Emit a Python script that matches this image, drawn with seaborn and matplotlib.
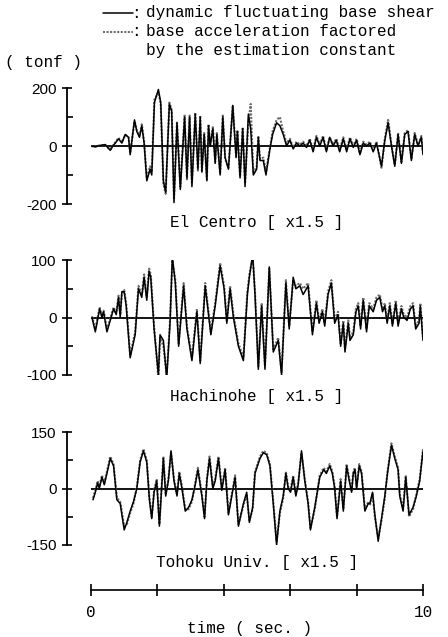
import numpy as np
import pandas as pd
import matplotlib
matplotlib.use("Agg")
import matplotlib.pyplot as plt
import seaborn as sns
from matplotlib.lines import Line2D

# ---------------- data ----------------
elc_t = [0.00, 0.13, 0.28, 0.43, 0.50, 0.58, 0.66, 0.73, 0.83, 0.93,
         1.03, 1.13, 1.18, 1.31, 1.38, 1.46, 1.53, 1.60, 1.68, 1.78,
         1.83, 1.91, 2.03, 2.10, 2.18, 2.25, 2.36, 2.43, 2.50, 2.59,
         2.69, 2.82, 2.89, 2.97, 3.04, 3.14, 3.22, 3.29, 3.34, 3.41,
         3.49, 3.54, 3.59, 3.67, 3.74, 3.79, 3.89, 3.97, 4.04, 4.14,
         4.27, 4.37, 4.41, 4.49, 4.57, 4.64, 4.74, 4.81, 4.89, 4.99,
         5.04, 5.09, 5.19, 5.27, 5.39, 5.47, 5.59, 5.69, 5.79, 5.89,
         5.99, 6.09, 6.19, 6.29, 6.39, 6.49, 6.59, 6.69, 6.79, 6.89,
         6.99, 7.09, 7.19, 7.29, 7.39, 7.49, 7.60, 7.70, 7.80, 7.90,
         8.00, 8.10, 8.20, 8.30, 8.40, 8.50, 8.60, 8.75, 8.85, 8.95,
         9.05, 9.15, 9.25, 9.35, 9.45, 9.55, 9.65, 9.75, 9.85, 9.95,
         10.00]
elc_shear = [0, -3, 2, 5, -5, -15, 0, 10, 25, 10,
             40, 30, -30, 90, 50, 30, 70, 10, -120, -80,
             -100, 150, 195, 150, -120, -160, 145, 120, -195, 80,
             -150, 100, -110, 100, -140, 110, -80, 100, -90, 40,
             -120, 70, 0, 60, -60, 40, -100, 100, -40, -80,
             140, -40, 50, -110, 60, -140, 110, 60, -100, -80,
             30, -50, -50, -100, -10, 40, 80, 70, 40, 0,
             20, -10, 10, 0, 10, -5, 20, -20, 30, 0,
             30, -20, 30, 0, 20, -20, 25, -20, 25, -5,
             20, -30, 10, 0, 10, -20, 10, -70, 20, 80,
             0, -70, 40, -60, 40, 50, -50, 40, 0, 30,
             -30]
elc_acc = [0, -2, 3, 3, -4, -12, 2, 12, 28, 12,
           38, 32, -25, 85, 55, 35, 75, 15, -110, -70,
           -90, 160, 185, 145, -130, -165, 150, 125, -185, 85,
           -140, 105, -115, 105, -130, 115, -85, 105, -85, 45,
           -115, 75, 5, 65, -55, 45, -95, 105, -45, -75,
           140, -35, 55, -105, 65, -130, 80, 145, -95, -70,
           35, -45, -40, -90, -5, 50, 90, 100, 50, 10,
           25, -5, 15, 5, 15, 0, 25, -15, 35, 5,
           35, -15, 30, 5, 25, -15, 30, -15, 30, 0,
           25, -25, 15, 5, 15, -15, 15, -75, 25, 90,
           5, -65, 45, -55, 45, 55, -45, 45, 5, 35,
           -25]

hac_t = [0.03, 0.13, 0.26, 0.33, 0.38, 0.48, 0.58, 0.68, 0.76, 0.83,
         0.88, 0.93, 1.00, 1.06, 1.18, 1.33, 1.43, 1.53, 1.60, 1.68,
         1.75, 1.80, 1.90, 2.03, 2.08, 2.18, 2.28, 2.38, 2.45, 2.54,
         2.64, 2.79, 2.89, 3.04, 3.19, 3.29, 3.44, 3.49, 3.61, 3.74,
         3.89, 4.01, 4.09, 4.19, 4.29, 4.44, 4.59, 4.71, 4.77, 4.87,
         4.94, 5.04, 5.14, 5.24, 5.37, 5.49, 5.64, 5.74, 5.87, 5.97,
         6.09, 6.17, 6.29, 6.39, 6.54, 6.67, 6.79, 6.87, 6.97, 7.04,
         7.14, 7.24, 7.34, 7.44, 7.52, 7.60, 7.65, 7.75, 7.80, 7.90,
         7.98, 8.05, 8.12, 8.20, 8.30, 8.38, 8.50, 8.60, 8.70, 8.78,
         8.85, 8.92, 9.00, 9.08, 9.18, 9.25, 9.35, 9.42, 9.52, 9.62,
         9.70, 9.78, 9.88, 9.92, 10.00]
hac_shear = [0, -25, 15, 0, 10, -25, -5, 15, 5, 35,
             0, 45, 45, 20, -70, -30, 50, 35, 70, 30,
             80, 70, -20, -100, -30, -40, -105, -10, 105, 60,
             -50, 55, -20, -75, 10, -80, 55, 30, -30, 20,
             90, 50, -10, 50, 0, -50, -75, 40, 70, 110,
             40, -90, 20, -90, 88, -60, -40, -100, 60, -20,
             70, 50, 55, 40, 55, -30, 25, -10, 10, -15,
             40, 60, -10, 5, -50, -10, -60, -10, -40, -30,
             10, 20, -20, 30, -25, 20, 10, 30, 35, 10,
             20, -10, 20, -15, 25, -15, 15, 0, -5, 15,
             20, -20, -10, 20, -40]
hac_acc = [2, -20, 18, 3, 12, -20, -2, 18, 8, 38,
           5, 40, 48, 25, -65, -25, 55, 40, 75, 35,
           85, 75, -15, -105, -35, -50, -100, -5, 100, 65,
           -45, 60, -15, -70, 15, -75, 60, 35, -25, 25,
           95, 55, -5, 55, 5, -45, -70, 45, 75, 105,
           45, -85, 25, -85, 85, -55, -35, -95, 65, -15,
           65, 55, 60, 50, 60, -25, 30, -5, 15, -10,
           45, 65, -5, 10, -45, -5, -55, -5, -35, -25,
           15, 25, -15, 35, -20, 25, 15, 35, 40, 15,
           25, -5, 25, -10, 30, -10, 20, 5, 0, 20,
           25, -15, -5, 25, -35]

toh_t = [0.06, 0.13, 0.20, 0.25, 0.33, 0.40, 0.48, 0.58, 0.68, 0.78,
         0.88, 1.00, 1.08, 1.18, 1.28, 1.38, 1.48, 1.58, 1.68, 1.76,
         1.83, 1.90, 1.98, 2.06, 2.18, 2.25, 2.33, 2.41, 2.50, 2.59,
         2.66, 2.74, 2.84, 2.94, 3.04, 3.14, 3.22, 3.34, 3.42, 3.49,
         3.57, 3.67, 3.74, 3.84, 3.94, 4.04, 4.14, 4.24, 4.34, 4.44,
         4.59, 4.69, 4.77, 4.87, 4.94, 5.09, 5.19, 5.29, 5.39, 5.49,
         5.59, 5.69, 5.79, 5.87, 5.94, 6.01, 6.09, 6.17, 6.24, 6.34,
         6.44, 6.54, 6.61, 6.74, 6.89, 7.01, 7.09, 7.19, 7.27, 7.34,
         7.41, 7.52, 7.60, 7.70, 7.78, 7.85, 7.90, 7.95, 8.00, 8.08,
         8.15, 8.25, 8.35, 8.40, 8.48, 8.55, 8.65, 8.75, 8.85, 8.93,
         9.05, 9.15, 9.25, 9.30, 9.40, 9.48, 9.58, 9.70, 9.80, 9.90,
         10.00]
toh_shear = [-30, -10, 15, 0, 30, 10, 40, 80, 60, -30,
             -40, -110, -90, -60, -35, 0, 70, 100, 70, -30,
             -80, -10, 20, -100, 80, -20, 20, 100, 20, -20,
             40, 0, -60, -50, -30, 10, 50, -20, -80, 20,
             80, 0, 20, 80, -5, 50, -70, -20, 30, -100,
             -40, -10, -90, -50, 40, 80, 95, 90, 60, -40,
             -150, -60, -20, 40, 0, -10, 30, -20, 10, 100,
             20, -40, -110, -50, 30, 50, 40, 60, 40, 0,
             -80, 20, -60, 60, 20, -10, 40, 50, 0, 60,
             40, -60, -40, -40, -10, -70, -140, -80, -20, 40,
             115, 80, 50, -20, -60, 30, -70, -50, -20, 20,
             100]
toh_acc = [-25, -5, 20, 5, 35, 15, 45, 85, 65, -25,
           -35, -100, -95, -65, -40, 5, 75, 105, 75, -25,
           -75, -5, 25, -95, 85, -15, 25, 95, 25, -15,
           45, 5, -55, -55, -35, 15, 55, -15, -75, 25,
           85, 5, 25, 85, 0, 55, -65, -15, 35, -95,
           -45, -15, -85, -55, 45, 85, 100, 95, 65, -35,
           -140, -65, -25, 45, 5, -5, 35, -15, 15, 95,
           25, -35, -105, -55, 35, 55, 45, 65, 45, 5,
           -75, 25, -55, 65, 25, -5, 45, 55, 5, 65,
           45, -55, -35, -45, -15, -75, -130, -85, -25, 45,
           120, 85, 55, -15, -55, 35, -75, -55, -15, 25,
           105]

panel_titles = ["El Centro [ x1.5 ]", "Hachinohe [ x1.5 ]", "Tohoku Univ. [ x1.5 ]"]
panel_limits = [200, 100, 150]
major_ticks = [[-200, 0, 200], [-100, 0, 100], [-150, 0, 150]]
major_labels = [["-200", "0", "200"], ["-100", "0", "100"], ["-150", "0", "150"]]
minor_ticks = [[-100, 100], [-50, 50], [-75, 75]]
time_ticks = [0, 2, 4, 6, 8, 10]
time_labels = ["0", "", "", "", "", "10"]

# ---------------- style ----------------
sns.set_style("ticks")
plt.rcParams["font.family"] = ["Liberation Mono", "DejaVu Sans"]
for key in ["text.color", "axes.edgecolor", "xtick.color", "ytick.color", "axes.labelcolor"]:
    plt.rcParams[key] = "black"

W, H = 448, 637
fig = plt.figure(figsize=(W / 100, H / 100), dpi=100)

def fx(px):
    return px / W

def fy(py):
    return 1 - py / H

panel_px = [(88, 204), (260, 375), (432, 545)]
title_px = [222, 397, 562]
x0_px, x1_px = 91, 423
DOT = "#6e6e6e"
TXT = 11.5

series = [(elc_t, elc_shear, elc_acc), (hac_t, hac_shear, hac_acc), (toh_t, toh_shear, toh_acc)]

for i, (t, shear, acc) in enumerate(series):
    top, bot = panel_px[i]
    ax = fig.add_axes([fx(x0_px), fy(bot), fx(x1_px - x0_px), (bot - top) / H])
    df = pd.DataFrame({"t": t, "shear": shear, "acc": acc})
    sns.lineplot(data=df, x="t", y="acc", ax=ax, color=DOT, lw=1.5,
                 linestyle=(0, (1, 0.7)), sort=False)
    sns.lineplot(data=df, x="t", y="shear", ax=ax, color="black", lw=1.1, sort=False)
    ax.axhline(0, color="black", lw=1.3, zorder=0.5)
    ax.set_xlim(0, 10)
    lim = panel_limits[i]
    ax.set_ylim(-lim, lim)
    for s in ["top", "right", "bottom"]:
        ax.spines[s].set_visible(False)
    ax.spines["left"].set_position(("outward", 17.3))
    ax.spines["left"].set_linewidth(1.3)
    ax.set_xticks([])
    ax.set_yticks(major_ticks[i])
    ax.set_yticklabels(major_labels[i], family="Liberation Sans", fontsize=11)
    ax.set_yticks(minor_ticks[i], minor=True)
    ax.tick_params(axis="y", which="major", direction="inout", length=7, width=1.2, pad=4)
    ax.tick_params(axis="y", which="minor", direction="in", length=4, width=1.2)
    ax.set_xlabel("")
    ax.set_ylabel("")
    ax.patch.set_alpha(0)
    fig.text(fx((x0_px + x1_px) / 2), fy(title_px[i]), panel_titles[i],
             ha="center", va="center", fontsize=TXT)

# time axis
tax = fig.add_axes([fx(x0_px), fy(590), fx(x1_px - x0_px), 0.02])
tax.set_xlim(0, 10)
tax.set_ylim(0, 1)
for s in ["top", "right", "left"]:
    tax.spines[s].set_visible(False)
tax.spines["bottom"].set_linewidth(1.2)
tax.set_yticks([])
tax.set_xticks(time_ticks)
tax.set_xticklabels(time_labels, fontsize=TXT)
tax.tick_params(axis="x", direction="inout", length=9, width=1.2, pad=6)
tax.patch.set_alpha(0)
fig.text(fx(250), fy(628), "time ( sec. )", ha="center", va="center", fontsize=TXT)

# legend / unit text
fig.add_artist(Line2D([fx(103), fx(133)], [fy(13), fy(13)], color="black", lw=1.1))
fig.add_artist(Line2D([fx(103), fx(133)], [fy(32), fy(32)], color=DOT, lw=1.5,
                      linestyle=(0, (1, 0.7))))
fig.text(fx(131), fy(13), ":", ha="left", va="center", fontsize=TXT)
fig.text(fx(131), fy(32), ":", ha="left", va="center", fontsize=TXT)
fig.text(fx(146), fy(13), "dynamic fluctuating base shear", ha="left", va="center", fontsize=TXT)
fig.text(fx(146), fy(32), "base acceleration factored", ha="left", va="center", fontsize=TXT)
fig.text(fx(146), fy(50), "by the estimation constant", ha="left", va="center", fontsize=TXT)
fig.text(fx(5), fy(62), "( tonf )", ha="left", va="center", fontsize=TXT)

fig.savefig("out.png", dpi=100)
